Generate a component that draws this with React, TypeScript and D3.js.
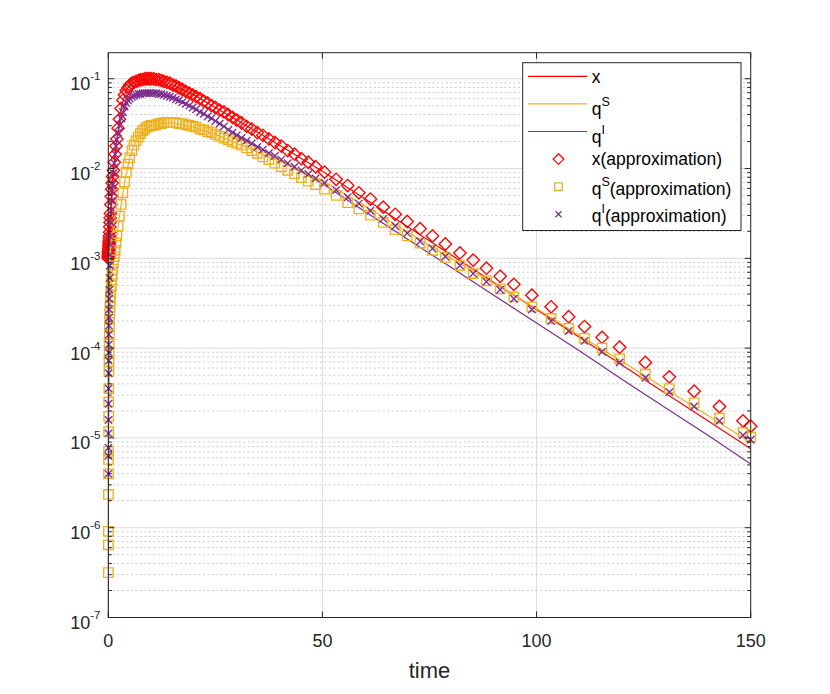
import { scaleLinear, scaleLog, line } from "d3";

const width = 830;
const height = 694;
const plotLeft = 108.3;
const plotRight = 750.7;
const plotTop = 52.7;
const plotBottom = 617.5;

const axisColor = "#262626";
const font = "'Liberation Sans', Arial, Helvetica, sans-serif";

const xColor = "#FF0000";
const qsColor = "#EDB120";
const qiColor = "#7E2F8E";

// exact solution curves
const lineTimes = [0, 0.01, 0.1, 0.25, 0.5, 1, 1.5, 2, 3, 4, 5, 6, 8, 10, 12, 15, 20, 25, 30, 40, 50, 60, 70, 80, 90, 100, 110, 120, 130, 140, 150];
const xLine = [1.0e-3, 1.0e-3, 1.096e-3, 1.585e-3, 3.162e-3, 8.128e-3, 1.318e-2, 2.138e-2, 4.677e-2, 7.079e-2, 8.511e-2, 9.12e-2, 9.772e-2, 0.1, 9.55e-2, 8.511e-2, 6.607e-2, 4.786e-2, 3.467e-2, 1.82e-2, 9.333e-3, 4.571e-3, 2.239e-3, 1.096e-3, 5.37e-4, 2.692e-4, 1.318e-4, 6.457e-5, 3.162e-5, 1.549e-5, 7.586e-6];
const qsLine = [1e-9, 3.162e-7, 2.512e-5, 1.585e-4, 3.802e-4, 7.586e-4, 1.122e-3, 1.778e-3, 3.981e-3, 7.943e-3, 1.318e-2, 1.82e-2, 2.63e-2, 3.02e-2, 3.162e-2, 3.236e-2, 2.884e-2, 2.399e-2, 1.905e-2, 1.202e-2, 7.413e-3, 3.802e-3, 1.95e-3, 1.0e-3, 5.248e-4, 2.754e-4, 1.38e-4, 7.079e-5, 3.548e-5, 1.778e-5, 8.913e-6];
const qiLine = [1e-9, 3.981e-6, 8.913e-5, 3.981e-4, 1.738e-3, 6.607e-3, 1.288e-2, 2.089e-2, 3.631e-2, 5.129e-2, 6.026e-2, 6.457e-2, 6.761e-2, 6.918e-2, 6.761e-2, 6.166e-2, 4.677e-2, 3.388e-2, 2.399e-2, 1.259e-2, 6.761e-3, 3.311e-3, 1.622e-3, 7.943e-4, 3.89e-4, 1.905e-4, 9.333e-5, 4.467e-5, 2.188e-5, 1.072e-5, 5.129e-6];

// approximation (solver steps)
const markTimes = [
  0.01, 0.02, 0.03, 0.04, 0.05, 0.06, 0.07, 0.08, 0.09, 0.1, 0.12, 0.14, 0.16, 0.18, 0.2, 0.23, 0.26, 0.3, 0.35, 0.4, 0.45, 0.5, 0.6, 0.7, 0.8, 0.9, 1.0,
  1.2, 1.4, 1.6, 1.8, 2.0, 2.3, 2.6, 3.0, 3.4, 3.8, 4.2, 4.6, 5.0, 5.5, 6.0, 6.5, 7.0, 7.5, 8.0, 8.5, 9.0, 9.5, 10,
  10.6, 11.2, 11.8, 12.4, 13.0, 13.7, 14.4, 15.1, 15.8, 16.5, 17.3, 18.1, 18.9, 19.7, 20.5, 21.4, 22.3, 23.2, 24.1, 25.0, 26.0, 27.0, 28.0, 29.0, 30.0,
  31.1, 32.3, 33.5, 34.8, 36.1, 37.5, 38.9, 40.4, 41.9, 43.5, 45.1, 46.7, 48.4, 50.5,
  53.2, 55.9, 58.5, 61.2, 64.2, 67.0, 69.8, 72.8, 75.7, 78.7, 82.1, 85.2, 88.3, 91.5, 94.7, 98.9,
  103.4, 107.5, 111.2, 115.3, 119.4, 125.4, 131.0, 136.8, 142.7, 148.2, 150.0,
];
const xApprox = [
  1.0e-3, 1.023e-3, 1.047e-3, 1.072e-3, 1.096e-3, 1.122e-3, 1.148e-3, 1.175e-3, 1.202e-3, 1.23e-3, 1.288e-3, 1.349e-3, 1.413e-3, 1.479e-3, 1.549e-3, 1.66e-3, 1.778e-3, 1.95e-3, 2.239e-3, 2.512e-3, 2.818e-3, 3.162e-3, 3.981e-3, 4.898e-3, 5.888e-3, 6.918e-3, 8.128e-3,
  9.55e-3, 1.175e-2, 1.445e-2, 1.778e-2, 2.138e-2, 2.818e-2, 3.548e-2, 4.677e-2, 5.754e-2, 6.607e-2, 7.413e-2, 7.943e-2, 8.511e-2, 8.913e-2, 9.12e-2, 9.333e-2, 9.55e-2, 9.772e-2, 9.772e-2, 0.1, 0.1, 0.1, 0.1,
  0.1, 9.772e-2, 9.772e-2, 9.55e-2, 9.333e-2, 9.12e-2, 8.913e-2, 8.511e-2, 8.318e-2, 7.943e-2, 7.586e-2, 7.244e-2, 6.918e-2, 6.607e-2, 6.31e-2, 6.026e-2, 5.623e-2, 5.37e-2, 5.012e-2, 4.786e-2, 4.467e-2, 4.266e-2, 3.981e-2, 3.715e-2, 3.467e-2,
  3.236e-2, 2.951e-2, 2.754e-2, 2.512e-2, 2.344e-2, 2.138e-2, 1.95e-2, 1.778e-2, 1.585e-2, 1.445e-2, 1.288e-2, 1.175e-2, 1.047e-2, 9.12e-3,
  7.586e-3, 6.457e-3, 5.37e-3, 4.571e-3, 3.715e-3, 3.09e-3, 2.57e-3, 2.138e-3, 1.778e-3, 1.445e-3, 1.148e-3, 9.55e-4, 7.762e-4, 6.31e-4, 5.129e-4, 3.89e-4,
  2.884e-4, 2.239e-4, 1.738e-4, 1.318e-4, 1.023e-4, 6.918e-5, 4.786e-5, 3.311e-5, 2.239e-5, 1.549e-5, 1.349e-5,
];
const qsApprox = [
  3.162e-7, 6.457e-7, 9.12e-7, 2.344e-6, 3.981e-6, 5.754e-6, 7.079e-6, 1.175e-5, 1.738e-5, 2.512e-5, 3.548e-5, 5.495e-5, 7.079e-5, 8.71e-5, 1.148e-4, 1.413e-4, 1.738e-4, 2.089e-4, 2.455e-4, 2.884e-4, 3.311e-4, 3.802e-4, 4.266e-4, 5.012e-4, 5.754e-4, 6.607e-4, 7.586e-4,
  8.913e-4, 1.047e-3, 1.23e-3, 1.479e-3, 1.778e-3, 2.291e-3, 2.951e-3, 3.981e-3, 5.37e-3, 7.079e-3, 9.12e-3, 1.122e-2, 1.318e-2, 1.585e-2, 1.82e-2, 2.042e-2, 2.239e-2, 2.455e-2, 2.63e-2, 2.754e-2, 2.884e-2, 2.951e-2, 3.02e-2,
  3.02e-2, 3.09e-2, 3.162e-2, 3.162e-2, 3.236e-2, 3.236e-2, 3.236e-2, 3.236e-2, 3.236e-2, 3.162e-2, 3.162e-2, 3.09e-2, 3.02e-2, 2.951e-2, 2.884e-2, 2.754e-2, 2.692e-2, 2.57e-2, 2.512e-2, 2.399e-2, 2.291e-2, 2.188e-2, 2.089e-2, 1.995e-2, 1.905e-2,
  1.82e-2, 1.698e-2, 1.585e-2, 1.479e-2, 1.349e-2, 1.259e-2, 1.148e-2, 1.047e-2, 9.55e-3, 8.71e-3, 7.943e-3, 7.244e-3, 6.607e-3, 5.888e-3,
  5.012e-3, 4.169e-3, 3.548e-3, 3.02e-3, 2.512e-3, 2.089e-3, 1.778e-3, 1.479e-3, 1.23e-3, 1.023e-3, 8.318e-4, 6.761e-4, 5.623e-4, 4.571e-4, 3.715e-4, 2.884e-4,
  2.138e-4, 1.66e-4, 1.288e-4, 1.0e-4, 7.586e-5, 5.129e-5, 3.548e-5, 2.455e-5, 1.66e-5, 1.148e-5, 1.023e-5,
];
const qiApprox = [
  3.981e-6, 6.31e-6, 7.762e-6, 1.122e-5, 1.585e-5, 2.399e-5, 3.548e-5, 5.248e-5, 7.244e-5, 8.913e-5, 1.096e-4, 1.413e-4, 1.778e-4, 2.188e-4, 2.692e-4, 3.548e-4, 4.467e-4, 6.026e-4, 8.318e-4, 1.096e-3, 1.413e-3, 1.738e-3, 2.512e-3, 3.388e-3, 4.365e-3, 5.495e-3, 6.607e-3,
  8.913e-3, 1.148e-2, 1.445e-2, 1.778e-2, 2.089e-2, 2.512e-2, 3.02e-2, 3.631e-2, 4.266e-2, 4.898e-2, 5.37e-2, 5.754e-2, 6.026e-2, 6.31e-2, 6.457e-2, 6.607e-2, 6.761e-2, 6.761e-2, 6.918e-2, 6.918e-2, 6.918e-2, 6.918e-2, 6.918e-2,
  6.918e-2, 6.918e-2, 6.761e-2, 6.761e-2, 6.607e-2, 6.457e-2, 6.31e-2, 6.166e-2, 5.888e-2, 5.754e-2, 5.495e-2, 5.248e-2, 5.012e-2, 4.786e-2, 4.571e-2, 4.266e-2, 4.074e-2, 3.802e-2, 3.631e-2, 3.388e-2, 3.162e-2, 2.951e-2, 2.692e-2, 2.512e-2, 2.344e-2,
  2.188e-2, 2.042e-2, 1.905e-2, 1.738e-2, 1.622e-2, 1.479e-2, 1.38e-2, 1.259e-2, 1.148e-2, 1.047e-2, 9.55e-3, 8.71e-3, 7.762e-3, 6.918e-3,
  5.754e-3, 4.786e-3, 4.074e-3, 3.388e-3, 2.754e-3, 2.291e-3, 1.905e-3, 1.549e-3, 1.288e-3, 1.047e-3, 8.318e-4, 6.761e-4, 5.495e-4, 4.467e-4, 3.548e-4, 2.692e-4,
  1.995e-4, 1.549e-4, 1.202e-4, 9.12e-5, 6.918e-5, 4.677e-5, 3.236e-5, 2.239e-5, 1.549e-5, 1.072e-5, 9.55e-6,
];

const xTicks = [0, 50, 100, 150];
const yExponents = [-7, -6, -5, -4, -3, -2, -1];
const minorMultipliers = [2, 3, 4, 5, 6, 7, 8, 9];

const xScale = scaleLinear().domain([0, 150]).range([plotLeft, plotRight]);
const yScale = scaleLog().domain([1e-7, 0.195]).range([plotBottom, plotTop]);

const yMinor = yExponents.flatMap((e) =>
  minorMultipliers.map((m) => m * Math.pow(10, e)).filter((v) => v < 0.195)
);

const makePath = (values: number[]) =>
  line<number>()
    .x((_, i) => xScale(lineTimes[i]))
    .y((v) => yScale(v))(values) || "";

type MarkerKind = "diamond" | "square" | "cross";

const markerPath = (kind: MarkerKind, cx: number, cy: number, s: number) => {
  if (kind === "diamond")
    return `M${cx},${cy - s}L${cx + s},${cy}L${cx},${cy + s}L${cx - s},${cy}Z`;
  if (kind === "square")
    return `M${cx - s},${cy - s}H${cx + s}V${cy + s}H${cx - s}Z`;
  return `M${cx - s},${cy - s}L${cx + s},${cy + s}M${cx - s},${cy + s}L${cx + s},${cy - s}`;
};

const lineSeries = [
  { name: "x", sup: "", values: xLine, color: xColor },
  { name: "q", sup: "S", values: qsLine, color: qsColor },
  { name: "q", sup: "I", values: qiLine, color: qiColor },
];

const markerSeries = [
  { name: "x", sup: "", values: xApprox, color: xColor, kind: "diamond" as MarkerKind, size: 6.2, legendSize: 5.3 },
  { name: "q", sup: "S", values: qsApprox, color: qsColor, kind: "square" as MarkerKind, size: 4.7, legendSize: 3.8 },
  { name: "q", sup: "I", values: qiApprox, color: qiColor, kind: "cross" as MarkerKind, size: 3.7, legendSize: 3 },
];

const LegendLabel = ({ x, y, name, sup, tail }: { x: number; y: number; name: string; sup: string; tail: string }) => (
  <text x={x} y={y} fontSize={17.5} fontFamily={font} fill="#000">
    {name}
    {sup && (
      <tspan fontSize={12.5} dy={-9}>
        {sup}
      </tspan>
    )}
    {tail && <tspan dy={sup ? 9 : 0}>{tail}</tspan>}
  </text>
);

export default function App() {
  const legendLeft = 522.7;
  const legendTop = 62.7;
  const legendRight = 741;
  const legendBottom = 230.5;
  const rowStep = 27.6;
  const firstRow = 76.3;

  return (
    <svg
      width={width}
      height={height}
      style={{ position: "absolute", left: 0, top: 0, background: "#fff" }}
    >
      <defs>
        <clipPath id="plotClip">
          <rect x={plotLeft} y={plotTop} width={plotRight - plotLeft} height={plotBottom - plotTop} />
        </clipPath>
      </defs>
      <rect x={0} y={0} width={width} height={height} fill="#fff" />
      <rect x={plotLeft} y={plotTop} width={plotRight - plotLeft} height={plotBottom - plotTop} fill="#fff" />

      {/* minor grid */}
      {yMinor.map((v) => (
        <line
          key={"mg" + v}
          x1={plotLeft}
          x2={plotRight}
          y1={yScale(v)}
          y2={yScale(v)}
          stroke="#cacaca"
          strokeWidth={1}
          strokeDasharray="2 2.5"
        />
      ))}
      {/* major grid */}
      {yExponents.map((e) => (
        <line
          key={"g" + e}
          x1={plotLeft}
          x2={plotRight}
          y1={yScale(Math.pow(10, e))}
          y2={yScale(Math.pow(10, e))}
          stroke="#dcdcdc"
          strokeWidth={1}
        />
      ))}
      {xTicks.map((t) => (
        <line key={"gx" + t} x1={xScale(t)} x2={xScale(t)} y1={plotTop} y2={plotBottom} stroke="#dcdcdc" strokeWidth={1} />
      ))}

      {/* curves */}
      <g clipPath="url(#plotClip)">
        {lineSeries.map((s, i) => (
          <path key={"l" + i} d={makePath(s.values)} fill="none" stroke={s.color} strokeWidth={1.2} />
        ))}
      </g>

      {/* approximation markers */}
      {markerSeries.map((s, i) => (
        <g key={"m" + i} fill="none" stroke={s.color} strokeWidth={1.35}>
          {s.values.map((v, j) => (
            <path key={j} d={markerPath(s.kind, xScale(markTimes[j]), yScale(v), s.size)} />
          ))}
        </g>
      ))}

      {/* box */}
      <rect
        x={plotLeft}
        y={plotTop}
        width={plotRight - plotLeft}
        height={plotBottom - plotTop}
        fill="none"
        stroke={axisColor}
        strokeWidth={1}
      />

      {/* ticks */}
      {xTicks.map((t) => (
        <g key={"xt" + t} stroke={axisColor} strokeWidth={1}>
          <line x1={xScale(t)} x2={xScale(t)} y1={plotBottom} y2={plotBottom - 6} />
          <line x1={xScale(t)} x2={xScale(t)} y1={plotTop} y2={plotTop + 6} />
        </g>
      ))}
      {yExponents.map((e) => {
        const yy = yScale(Math.pow(10, e));
        return (
          <g key={"yt" + e} stroke={axisColor} strokeWidth={1}>
            <line x1={plotLeft} x2={plotLeft + 6} y1={yy} y2={yy} />
            <line x1={plotRight} x2={plotRight - 6} y1={yy} y2={yy} />
          </g>
        );
      })}
      {yMinor.map((v) => (
        <g key={"ym" + v} stroke={axisColor} strokeWidth={1}>
          <line x1={plotLeft} x2={plotLeft + 3.5} y1={yScale(v)} y2={yScale(v)} />
          <line x1={plotRight} x2={plotRight - 3.5} y1={yScale(v)} y2={yScale(v)} />
        </g>
      ))}

      {/* tick labels */}
      {xTicks.map((t) => (
        <text
          key={"xl" + t}
          x={xScale(t)}
          y={646.5}
          textAnchor="middle"
          fontSize={18}
          fontFamily={font}
          fill={axisColor}
        >
          {t}
        </text>
      ))}
      {yExponents.map((e) => (
        <text
          key={"yl" + e}
          x={100.5}
          y={yScale(Math.pow(10, e)) + 11.5}
          textAnchor="end"
          fontSize={18}
          fontFamily={font}
          fill={axisColor}
        >
          10
          <tspan fontSize={11.5} dy={-10}>
            {e}
          </tspan>
        </text>
      ))}
      <text x={(plotLeft + plotRight) / 2} y={678} textAnchor="middle" fontSize={22} fontFamily={font} fill={axisColor}>
        time
      </text>

      {/* legend */}
      <rect
        x={legendLeft}
        y={legendTop}
        width={legendRight - legendLeft}
        height={legendBottom - legendTop}
        fill="#fff"
        stroke={axisColor}
        strokeWidth={1}
      />
      {lineSeries.map((s, i) => {
        const ry = firstRow + i * rowStep;
        return (
          <g key={"ll" + i}>
            <line x1={528} x2={587} y1={ry} y2={ry} stroke={s.color} strokeWidth={1.2} />
            <LegendLabel x={591.7} y={ry + (s.sup ? 11 : 7)} name={s.name} sup={s.sup} tail="" />
          </g>
        );
      })}
      {markerSeries.map((s, i) => {
        const ry = firstRow + (i + 3) * rowStep;
        return (
          <g key={"lm" + i}>
            <path d={markerPath(s.kind, 558.5, ry, s.legendSize)} fill="none" stroke={s.color} strokeWidth={1.3} />
            <LegendLabel
              x={591.7}
              y={ry + (s.sup ? 8 : 6)}
              name={s.name}
              sup={s.sup}
              tail="(approximation)"
            />
          </g>
        );
      })}
    </svg>
  );
}
